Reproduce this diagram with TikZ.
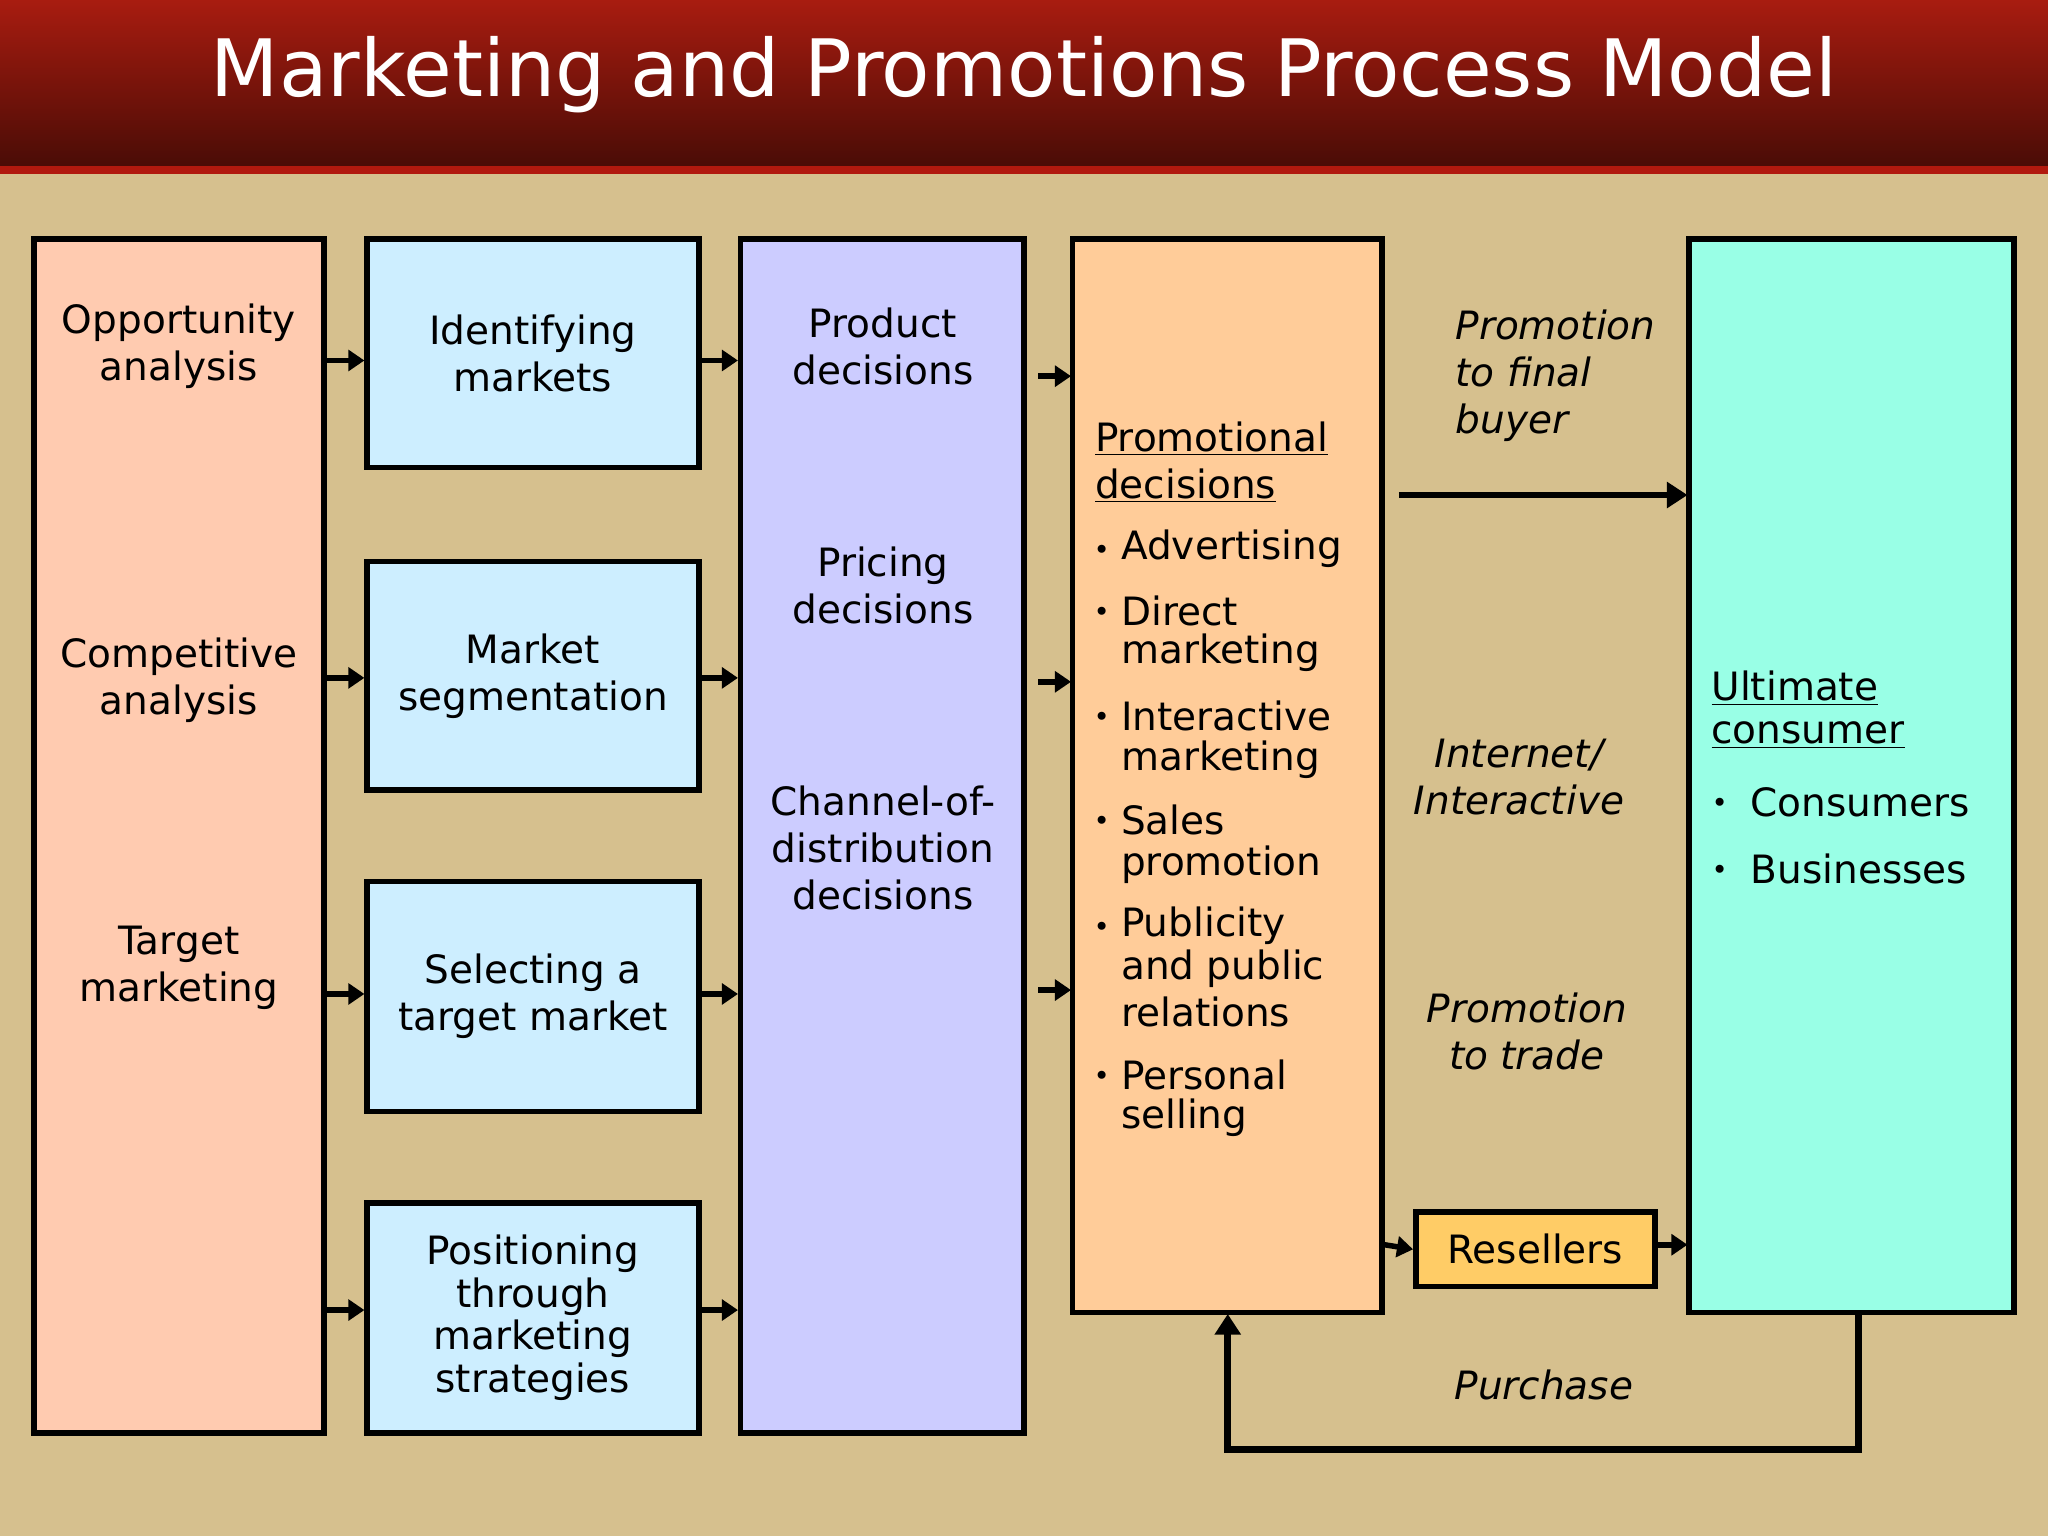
\documentclass[tikz,border=0pt]{standalone}
\usepackage{fontspec}
\setmainfont{DejaVu Sans}
\usetikzlibrary{arrows.meta}
\definecolor{bg}{HTML}{D6C08E}
\definecolor{peach}{HTML}{FFCBB0}
\definecolor{lblue}{HTML}{CDEEFF}
\definecolor{lav}{HTML}{CCCCFF}
\definecolor{orng}{HTML}{FFCC99}
\definecolor{aqua}{HTML}{99FFE6}
\definecolor{gold}{HTML}{FFCC66}
\definecolor{trop}{HTML}{A81C10}
\definecolor{tbot}{HTML}{4A0C06}
\tikzset{
 boxx/.style={draw=black,line width=2.4pt},
 txt/.style={font=\fontsize{17}{20.5}\selectfont,align=center,inner sep=0pt},
 itx/.style={font=\fontsize{17}{20.5}\selectfont\itshape,inner sep=0pt},
 arr/.style={line width=2.4pt,-{Triangle[length=7pt,width=9pt]}},
}
\begin{document}
\begin{tikzpicture}[x=0.02cm,y=-0.02cm]
\useasboundingbox (0,0) rectangle (1568,1176);
\fill[bg] (0,0) rectangle (1568,1176);
\shade[top color=trop,bottom color=tbot] (0,0) rectangle (1568,127);
\fill[trop!90!red] (0,127) rectangle (1568,133);
\node[font=\fontsize{34.5}{40}\selectfont,text=white] (title) at (784,57) {Marketing and Promotions Process Model};
% boxes
\draw[boxx,fill=peach] (26,183) rectangle (248,1097);
\node[boxx,fill=lblue,minimum width=254*0.02cm,minimum height=175*0.02cm,inner sep=0pt] (b1) at (408,270.5) {};
\node[boxx,fill=lblue,minimum width=254*0.02cm,minimum height=175*0.02cm,inner sep=0pt] (b2) at (408,517.5) {};
\node[boxx,fill=lblue,minimum width=254*0.02cm,minimum height=176*0.02cm,inner sep=0pt] (b3) at (408,763) {};
\node[boxx,fill=lblue,minimum width=254*0.02cm,minimum height=176*0.02cm,inner sep=0pt] (b4) at (408,1009) {};
\draw[boxx,fill=lav] (567,183) rectangle (784,1097);
\draw[boxx,fill=orng] (821,183) rectangle (1058,1005);
\draw[boxx,fill=aqua] (1293,183) rectangle (1542,1005);
\node[boxx,fill=gold,minimum width=183*0.02cm,minimum height=57*0.02cm,inner sep=0pt,txt] (res) at (1175.5,956.5) {Resellers};
% column A
\node[txt] (a1) at (137,265) {Opportunity\\analysis};
\node[txt] (a2) at (137,521) {Competitive\\analysis};
\node[txt] (a3) at (137,741) {Target\\marketing};
\node[txt] at (b1) {Identifying\\markets};
\node[txt] at (b2) {Market\\segmentation};
\node[txt] at (b3) {Selecting a\\target market};
\node[txt,font=\fontsize{17}{18.5}\selectfont] at (b4) {Positioning\\through\\marketing\\strategies};
\node[txt] (c1) at (676,265) {Product\\decisions};
\node[txt] (c2) at (676,448) {Pricing\\decisions};
\node[txt] (c3) at (676,649) {Channel-of-\\distribution\\decisions};
% D content
\node[txt,anchor=west] (d0) at (838,336) {\underline{Promotional}};
\node[txt,anchor=west] (d0b) at (838,372) {\underline{decisions}};
\foreach \y/\t [count=\i] in {420/Advertising,468/Direct,548/Interactive,628/Sales,709/Publicity,823/Personal}{
 \node[txt,anchor=base west] (bul\i) at (837,\y+8) {\fontsize{12}{12}\selectfont•};
 \node[txt,anchor=west] (dt\i) at (858,\y) {\t};
}
\foreach \y/\t [count=\i] in {500/marketing,582/marketing,662/promotion,742/and public,775/relations,856/selling}{
 \node[txt,anchor=west] (dc\i) at (858,\y) {\t};
}
% E content
\node[txt,anchor=west] (e0) at (1310,527) {\underline{Ultimate}};
\node[txt,anchor=west] (e0b) at (1310,563) {\underline{consumer}};
\node[txt,anchor=base west] (e1) at (1310,622) {\fontsize{12}{12}\selectfont•};
\node[txt,anchor=west] (e1t) at (1340,614) {Consumers};
\node[txt,anchor=base west] (e2) at (1310,673) {\fontsize{12}{12}\selectfont•};
\node[txt,anchor=west] (e2t) at (1340,665) {Businesses};
% italic labels
\node[itx,align=left,anchor=north west] (l1) at (1114,237) {Promotion\\to final\\buyer};
\node[itx,align=center] (l2) at (1163,595) {Internet/\\Interactive};
\node[itx,align=center] (l3) at (1169,790) {Promotion\\to trade};
\node[itx] (l4) at (1182,1060) {Purchase};
% arrows
\foreach \y in {276,519,761,1003}{
 \coordinate (p\y) at (250,\y); \coordinate (q\y) at (279,\y);
 \draw[arr] (p\y) -- (q\y);
 \coordinate (r\y) at (537,\y); \coordinate (s\y) at (565,\y);
 \draw[arr] (r\y) -- (s\y);
}
\foreach \y in {288,522,758}{
 \coordinate (u\y) at (795,\y); \coordinate (v\y) at (820,\y);
 \draw[arr] (u\y) -- (v\y);
}
\coordinate (f1) at (1071,379); \coordinate (f2) at (1292,379);
\draw[line width=3pt,-{Triangle[length=9pt,width=11pt]}] (f1) -- (f2);
\coordinate (g1) at (1060,953); \coordinate (g3) at (1269,953); \coordinate (g4) at (1292,953);
\draw[arr] (g1) -- (res.west);
\draw[arr] (g3) -- (g4);
\coordinate (h1) at (1423,1006); \coordinate (h2) at (940,1006);
\draw[line width=3pt,-{Triangle[length=9pt,width=11pt]}] (h1) -- (1423,1110) -- (940,1110) -- (h2);
\end{tikzpicture}
\end{document}
